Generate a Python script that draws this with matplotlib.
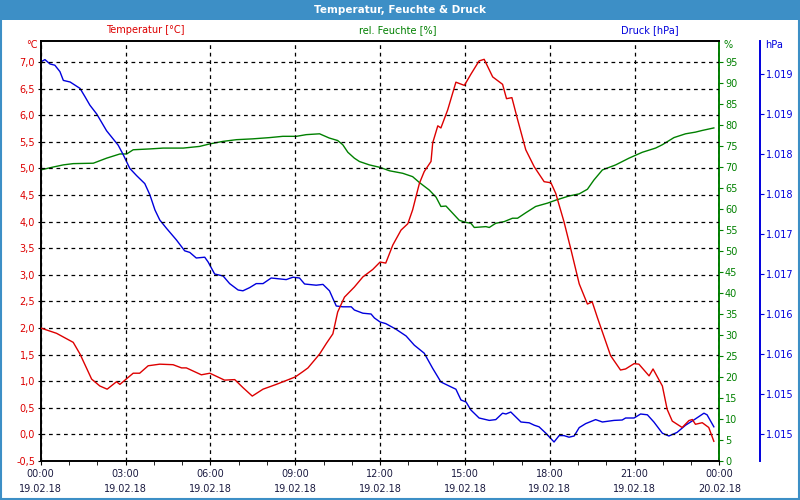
import numpy as np
import matplotlib
matplotlib.use("Agg")
import matplotlib.pyplot as plt
from matplotlib.patches import Rectangle
from matplotlib.ticker import FuncFormatter, MultipleLocator

# ── data (hours since 19.02.18 00:00) ──────────────────────────
temp_h = [0, 0.56, 1.15, 1.39, 1.8, 2.09, 2.35, 2.68, 2.8, 3.27, 3.5, 3.8, 4.21, 4.68, 4.98,
          5.15, 5.68, 5.98, 6.5, 6.86, 7.15, 7.48, 7.86, 8.33, 9.0, 9.27, 9.45, 9.86, 10.1, 10.33,
          10.5, 10.74, 11.09, 11.39, 11.74, 12.0, 12.2, 12.45, 12.74, 12.98, 13.15, 13.39, 13.56,
          13.8, 13.86, 14.04, 14.15, 14.39, 14.68, 14.98, 15.21, 15.5, 15.68, 15.98, 16.33, 16.47,
          16.66, 16.86, 17.15, 17.45, 17.8, 18.04, 18.21, 18.5, 18.74, 19.04, 19.33, 19.5, 19.68,
          20.15, 20.5, 20.68, 20.98, 21.15, 21.51, 21.65, 21.98, 22.15, 22.33, 22.68, 22.92, 23.04,
          23.15, 23.39, 23.62, 23.8]
temp = [2.0, 1.90, 1.73, 1.51, 1.04, 0.91, 0.85, 0.99, 0.94, 1.15, 1.15, 1.29, 1.32, 1.31, 1.25,
        1.25, 1.12, 1.15, 1.02, 1.03, 0.88, 0.72, 0.85, 0.94, 1.08, 1.18, 1.25, 1.51, 1.71, 1.89,
        2.30, 2.58, 2.77, 2.96, 3.10, 3.24, 3.22, 3.56, 3.84, 3.96, 4.22, 4.72, 4.94,
        5.13, 5.48, 5.80, 5.76, 6.10, 6.62, 6.56, 6.77, 7.02, 7.05, 6.72, 6.58, 6.31,
        6.33, 5.92, 5.35, 5.03, 4.75, 4.73, 4.53, 4.00, 3.49, 2.83, 2.45, 2.49, 2.20,
        1.48, 1.21, 1.23, 1.33, 1.32, 1.10, 1.23, 0.91, 0.47, 0.25, 0.13, 0.26, 0.28,
        0.19, 0.22, 0.13, -0.13]

hum_h = [0, 0.45, 0.8, 1.15, 1.86, 2.33, 2.8, 3.04, 3.27, 3.86, 4.33, 5.04, 5.62, 5.98, 6.45,
         6.92, 7.5, 8.1, 8.56, 9.04, 9.39, 9.86, 10.2, 10.5, 10.68, 10.86, 11.09, 11.27, 11.62,
         12.0, 12.33, 12.8, 13.15, 13.39, 13.74, 13.98, 14.15, 14.33, 14.8, 15.04, 15.21, 15.33,
         15.74, 15.86, 16.09, 16.39, 16.68, 16.86, 17.15, 17.5, 17.92, 18.21, 18.68, 19.04, 19.33,
         19.56, 19.86, 20.33, 20.8, 21.27, 21.74, 21.98, 22.39, 22.8, 23.15, 23.39, 23.8]
hum = [69.3, 70.0, 70.5, 70.8, 70.9, 72.1, 73.1, 73.1, 74.1, 74.3, 74.5, 74.5, 74.9, 75.5, 76.1,
       76.5, 76.7, 77.0, 77.3, 77.3, 77.7, 77.9, 76.9, 76.3, 75.3, 73.5, 72.1, 71.3, 70.5,
       69.9, 69.1, 68.5, 67.7, 66.3, 64.5, 62.8, 60.6, 60.7, 57.3, 56.8, 56.6, 55.6,
       55.8, 55.6, 56.6, 57.0, 57.8, 57.8, 59.1, 60.6, 61.4, 62.1, 63.1, 63.6, 64.7,
       66.9, 69.3, 70.5, 72.1, 73.5, 74.5, 75.3, 77.0, 77.9, 78.3, 78.7, 79.3]

pres_h = [0, 0.15, 0.33, 0.5, 0.68, 0.8, 1.04, 1.39, 1.56, 1.74, 1.98, 2.33, 2.74, 2.92, 3.15,
          3.39, 3.68, 3.86, 4.04, 4.21, 4.45, 4.8, 5.09, 5.27, 5.5, 5.8, 5.92, 6.15, 6.45, 6.68,
          6.98, 7.15, 7.39, 7.62, 7.86, 8.15, 8.68, 8.92, 9.15, 9.33, 9.74, 9.98, 10.21, 10.45,
          10.68, 10.98, 11.09, 11.39, 11.68, 11.8, 12.0, 12.2, 12.56, 12.92, 13.21, 13.56, 13.86,
          14.15, 14.5, 14.68, 14.86, 15.04, 15.21, 15.5, 15.86, 16.09, 16.33, 16.45, 16.62, 16.98,
          17.27, 17.45, 17.62, 17.86, 18.15, 18.33, 18.5, 18.68, 18.86, 19.04, 19.27, 19.62, 19.86,
          20.27, 20.56, 20.68, 20.98, 21.21, 21.45, 21.68, 21.98, 22.21, 22.5, 22.8, 23.09, 23.45,
          23.56, 23.8]
pres = [1019.15, 1019.18, 1019.125, 1019.11, 1019.03, 1018.92, 1018.90, 1018.82, 1018.72, 1018.61,
        1018.50, 1018.29, 1018.11, 1017.99, 1017.82, 1017.73, 1017.63, 1017.49, 1017.30, 1017.175,
        1017.07, 1016.925, 1016.79, 1016.77, 1016.70, 1016.71, 1016.65, 1016.50, 1016.475, 1016.38,
        1016.30, 1016.29, 1016.33, 1016.38, 1016.38, 1016.45, 1016.43, 1016.46, 1016.45, 1016.375,
        1016.36, 1016.37, 1016.29, 1016.10, 1016.09, 1016.09, 1016.05, 1016.01, 1016.0, 1015.95,
        1015.90, 1015.88, 1015.81, 1015.725, 1015.61, 1015.51, 1015.32, 1015.15, 1015.09, 1015.06,
        1014.925, 1014.90, 1014.80, 1014.70, 1014.67, 1014.68, 1014.76, 1014.75, 1014.775, 1014.65,
        1014.64, 1014.61, 1014.59, 1014.51, 1014.40, 1014.48, 1014.48, 1014.46, 1014.475, 1014.58,
        1014.63, 1014.68, 1014.65, 1014.67, 1014.675, 1014.70, 1014.70, 1014.75, 1014.74, 1014.65,
        1014.51, 1014.475, 1014.52, 1014.61, 1014.675, 1014.76, 1014.74, 1014.59]

x_ticks = [0, 3, 6, 9, 12, 15, 18, 21, 24]
x_labels = ["00:00\n19.02.18", "03:00\n19.02.18", "06:00\n19.02.18", "09:00\n19.02.18",
            "12:00\n19.02.18", "15:00\n19.02.18", "18:00\n19.02.18", "21:00\n19.02.18",
            "00:00\n20.02.18"]

# ── style ──────────────────────────────────────────────────────
BAR   = "#3d8fc6"
RED   = "#dd0000"
GREEN = "#008000"
BLUE  = "#0000dd"
FS    = 7

plt.rcParams["font.family"] = ["DejaVu Sans"]

fig = plt.figure(figsize=(8, 5), dpi=100)
fig.patch.set_facecolor("white")

# title bar + frame
fig.patches.append(Rectangle((0, 480 / 500), 1, 20 / 500, transform=fig.transFigure,
                             facecolor=BAR, edgecolor="none", zorder=0))
fig.patches.append(Rectangle((0.001, 0.002), 0.998, 0.99, transform=fig.transFigure,
                             facecolor="none", edgecolor=BAR, linewidth=1.5, zorder=0))
fig.text(0.5, 490 / 500, "Temperatur, Feuchte & Druck", ha="center", va="center",
         color="white", fontsize=7.5, fontweight="bold")

fig.text(145 / 800, 1 - 30 / 500, "Temperatur [°C]", ha="center", va="center", color=RED, fontsize=FS)
fig.text(398 / 800, 1 - 30 / 500, "rel. Feuchte [%]", ha="center", va="center", color=GREEN, fontsize=FS)
fig.text(650 / 800, 1 - 30 / 500, "Druck [hPa]", ha="center", va="center", color=BLUE, fontsize=FS)

fig.text(38 / 800, 1 - 45 / 500, "°C", ha="right", va="center", color=RED, fontsize=FS)
fig.text(724 / 800, 1 - 45 / 500, "%", ha="left", va="center", color=GREEN, fontsize=FS)
fig.text(765 / 800, 1 - 45 / 500, "hPa", ha="left", va="center", color=BLUE, fontsize=FS)

# ── axes ───────────────────────────────────────────────────────
left, right, top, bottom = 40.7, 719.5, 40.7, 461
ax = fig.add_axes([left / 800, 1 - bottom / 500, (right - left) / 800, (bottom - top) / 500])
T_LO, T_HI = -0.5, 7.4
ax.set_xlim(0, 24)
ax.set_ylim(T_LO, T_HI)
ax.set_xticks(x_ticks)
ax.set_xticklabels(x_labels, fontsize=FS, color="#1a1a40", linespacing=1.55)
ax.xaxis.set_minor_locator(MultipleLocator(1))
ax.tick_params(axis="x", which="both", length=3, direction="out", pad=3)
ax.yaxis.set_major_locator(MultipleLocator(0.5))
ax.yaxis.set_major_formatter(FuncFormatter(lambda v, p: f"{v:.1f}".replace(".", ",")))
ax.tick_params(axis="y", length=2, labelsize=FS, labelcolor=RED, pad=2)
ax.grid(True, color="black", linestyle=(0, (3, 3)), linewidth=0.9)
for side in ["left", "top", "bottom"]:
    ax.spines[side].set_color("black")
    ax.spines[side].set_linewidth(1.4)
ax.spines["right"].set_visible(False)

# humidity axis (linked to temperature grid)
ax2 = ax.twinx()
ax2.set_ylim(0, (T_HI - T_LO) * 95 / 7.5)
ax2.set_yticks(np.arange(0, 100, 5))
ax2.tick_params(axis="y", length=3, direction="out", labelsize=FS, labelcolor=GREEN,
                color=GREEN, pad=1)
for side in ["left", "top", "bottom"]:
    ax2.spines[side].set_visible(False)
ax2.spines["right"].set_color(GREEN)
ax2.spines["right"].set_linewidth(1.4)

# pressure axis
ax3 = ax.twinx()
ax3.set_ylim(1014.5 - 27 / 80, 1014.5 + 393.3 / 80)
ax3.set_yticks(np.arange(1014.5, 1019.01, 0.5))


def hpa_fmt(v, p):
    n = int(np.floor(v + 0.5))
    return f"{n // 1000}.{n % 1000:03d}"


ax3.yaxis.set_major_formatter(FuncFormatter(hpa_fmt))
ax3.spines["right"].set_position(("axes", (760 - left) / (right - left)))
for side in ["left", "top", "bottom"]:
    ax3.spines[side].set_visible(False)
ax3.spines["right"].set_color(BLUE)
ax3.spines["right"].set_linewidth(1.4)
ax3.tick_params(axis="y", length=3, direction="out", labelsize=FS, labelcolor=BLUE,
                color=BLUE, pad=1)

# ── lines ──────────────────────────────────────────────────────
ax2.plot(hum_h, hum, color=GREEN, linewidth=1)
ax3.plot(pres_h, pres, color=BLUE, linewidth=1)
ax.plot(temp_h, temp, color=RED, linewidth=1, zorder=5)
ax.set_zorder(ax3.get_zorder() + 1)
ax.patch.set_visible(False)

fig.savefig("out.png", dpi=100, facecolor="white")
